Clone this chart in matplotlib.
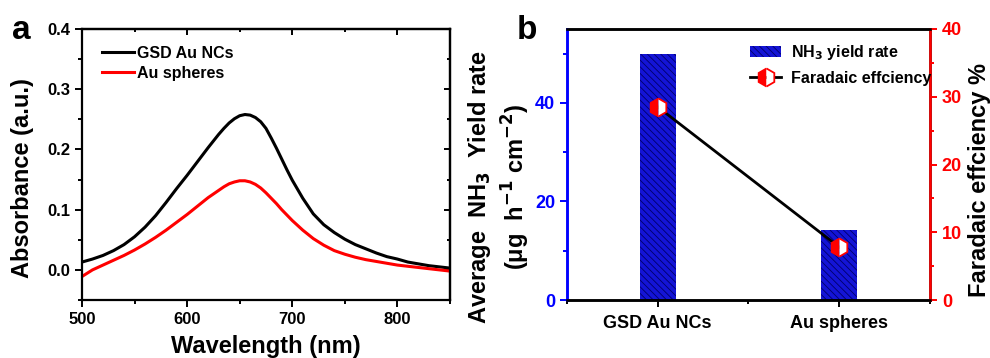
import matplotlib
matplotlib.use("Agg")
import matplotlib.pyplot as plt
from matplotlib.ticker import MultipleLocator, FormatStrFormatter
import numpy as np

plt.rcParams['font.family'] = ['Liberation Sans', 'DejaVu Sans']
plt.rcParams['font.weight'] = 'bold'
plt.rcParams['axes.labelweight'] = 'bold'
plt.rcParams['mathtext.default'] = 'bf'
plt.rcParams['hatch.linewidth'] = 0.6

# UV-vis absorbance spectra
wavelength = [500, 510, 520, 530, 540, 550, 560, 570, 580, 590, 600, 610, 620, 630,
              635, 640, 645, 650, 655, 660, 665, 670, 675, 680, 685, 690, 695, 700,
              710, 720, 730, 740, 750, 760, 770, 780, 790, 800, 810, 820, 830, 840, 850]
abs_gsd = [0.013, 0.018, 0.024, 0.032, 0.042, 0.055, 0.071, 0.090, 0.112, 0.135,
           0.157, 0.180, 0.203, 0.225, 0.235, 0.244, 0.251, 0.256, 0.258, 0.257,
           0.253, 0.246, 0.235, 0.219, 0.202, 0.184, 0.166, 0.149, 0.119, 0.093,
           0.075, 0.062, 0.051, 0.042, 0.035, 0.028, 0.022, 0.018, 0.013, 0.010,
           0.007, 0.005, 0.003]
abs_spheres = [-0.011, 0.000, 0.008, 0.016, 0.024, 0.033, 0.043, 0.054, 0.066, 0.079,
               0.092, 0.106, 0.120, 0.132, 0.138, 0.143, 0.146, 0.148, 0.148, 0.146,
               0.142, 0.136, 0.128, 0.119, 0.110, 0.100, 0.091, 0.082, 0.066, 0.052,
               0.041, 0.032, 0.026, 0.021, 0.017, 0.014, 0.011, 0.008, 0.006, 0.004,
               0.002, 0.000, -0.002]

# NRR performance
catalysts = ['GSD Au NCs', 'Au spheres']
yield_rate = [50.0, 14.2]
faradaic_eff = [28.5, 7.8]

fig = plt.figure(figsize=(9.9, 3.58), dpi=100)


def bold_ticks(ax):
    for lab in ax.get_xticklabels() + ax.get_yticklabels():
        lab.set_fontweight('bold')


# ---- panel a ----
ax1 = fig.add_axes([0.0828, 0.162, 0.3717, 0.757])
ax1.plot(wavelength, abs_gsd, color='black', lw=2.2, label='GSD Au NCs')
ax1.plot(wavelength, abs_spheres, color='#ff0000', lw=2.2, label='Au spheres')
ax1.set_xlim(500, 850)
ax1.set_ylim(-0.05, 0.4)
ax1.xaxis.set_major_locator(MultipleLocator(100))
ax1.xaxis.set_minor_locator(MultipleLocator(50))
ax1.yaxis.set_major_locator(MultipleLocator(0.1))
ax1.yaxis.set_minor_locator(MultipleLocator(0.05))
ax1.yaxis.set_major_formatter(FormatStrFormatter('%.1f'))
for s in ax1.spines.values():
    s.set_linewidth(1.6)
ax1.tick_params(which='both', direction='out', width=1.4, labelsize=12)
ax1.tick_params(which='major', length=5)
ax1.tick_params(which='minor', length=3)
ax1.set_xlabel('Wavelength (nm)', fontsize=17, labelpad=6)
ax1.set_ylabel('Absorbance (a.u.)', fontsize=17)
ax1.yaxis.set_label_coords(-0.13, 0.45)
ax1.legend(loc='upper left', frameon=False, fontsize=11.5, handlelength=2.0,
           handletextpad=0.2, borderaxespad=0.4, labelspacing=0.3,
           bbox_to_anchor=(0.02, 0.985))
# inward mirror ticks on top and right
ax1t = ax1.secondary_xaxis('top')
ax1t.tick_params(which='both', direction='in', width=1.4, labeltop=False)
ax1t.tick_params(which='major', length=4)
ax1t.tick_params(which='minor', length=2.5)
ax1t.xaxis.set_major_locator(MultipleLocator(100))
ax1t.xaxis.set_minor_locator(MultipleLocator(50))
ax1t.spines['top'].set_linewidth(1.6)
ax1r = ax1.secondary_yaxis('right')
ax1r.tick_params(which='both', direction='in', width=1.4, labelright=False)
ax1r.tick_params(which='major', length=4)
ax1r.tick_params(which='minor', length=2.5)
ax1r.yaxis.set_major_locator(MultipleLocator(0.1))
ax1r.yaxis.set_minor_locator(MultipleLocator(0.05))
ax1r.spines['right'].set_linewidth(1.6)
bold_ticks(ax1)
fig.text(0.012, 0.915, 'a', fontsize=24, fontweight='bold', va='center')

# ---- panel b ----
ax2 = fig.add_axes([0.5727, 0.162, 0.3667, 0.757])
x = np.arange(1, len(catalysts) + 1)
bars = ax2.bar(x, yield_rate, width=0.2, color='#1414d6', edgecolor='#00006a',
               hatch='\\\\\\\\\\', linewidth=0, label='NH$_3$ yield rate')
ax2.set_xlim(0.5, 2.5)
ax2.set_ylim(0, 55)
ax2.set_xticks(x)
ax2.set_xticklabels(catalysts)
ax2.xaxis.set_minor_locator(MultipleLocator(0.5))
ax2.yaxis.set_major_locator(MultipleLocator(20))
ax2.yaxis.set_minor_locator(MultipleLocator(10))
ax2.tick_params(axis='x', which='both', direction='out', width=1.4, labelsize=13, pad=6)
ax2.tick_params(axis='x', which='major', length=5)
ax2.tick_params(axis='x', which='minor', length=3)
ax2.tick_params(axis='y', which='both', direction='out', width=1.4, colors='#0000ff',
                labelsize=13)
ax2.tick_params(axis='y', which='major', length=5)
ax2.tick_params(axis='y', which='minor', length=3)
ax2.spines['left'].set_color('#0000ff')
for s in ax2.spines.values():
    s.set_linewidth(1.8)
ax2.set_ylabel('Average  NH$_3$  Yield rate\n(μg  h$^{-1}$ cm$^{-2}$)', fontsize=17,
               linespacing=1.25)
ax2.yaxis.set_label_coords(-0.097, 0.417)
bold_ticks(ax2)

ax3 = ax2.twinx()
ax3.set_ylim(0, 40)
fe_line, = ax3.plot(x, faradaic_eff, color='black', lw=2, marker='h', markersize=13,
                    markerfacecolor='#ff0000', markerfacecoloralt='white',
                    markeredgecolor='#ff0000', markeredgewidth=1.3, fillstyle='left',
                    label='Faradaic effciency')
ax3.yaxis.set_major_locator(MultipleLocator(10))
ax3.yaxis.set_minor_locator(MultipleLocator(5))
ax3.tick_params(axis='y', which='both', direction='out', width=1.4, colors='#ff0000',
                labelsize=13)
ax3.tick_params(axis='y', which='major', length=5)
ax3.tick_params(axis='y', which='minor', length=3)
ax3.spines['right'].set_color('#ff0000')
ax3.spines['left'].set_color('#0000ff')
for s in ax3.spines.values():
    s.set_linewidth(1.8)
ax3.set_ylabel('Faradaic effciency %', fontsize=17)
ax3.yaxis.set_label_coords(1.105, 0.443)
bold_ticks(ax3)
ax3.legend([bars, fe_line], ['NH$_3$ yield rate', 'Faradaic effciency'],
           loc='upper right', frameon=False, fontsize=11.5, handlelength=2.0,
           handletextpad=0.6, labelspacing=0.55, borderaxespad=0.2,
           bbox_to_anchor=(1.03, 0.983))
fig.text(0.522, 0.915, 'b', fontsize=24, fontweight='bold', va='center')

fig.savefig('out.png', dpi=100)
